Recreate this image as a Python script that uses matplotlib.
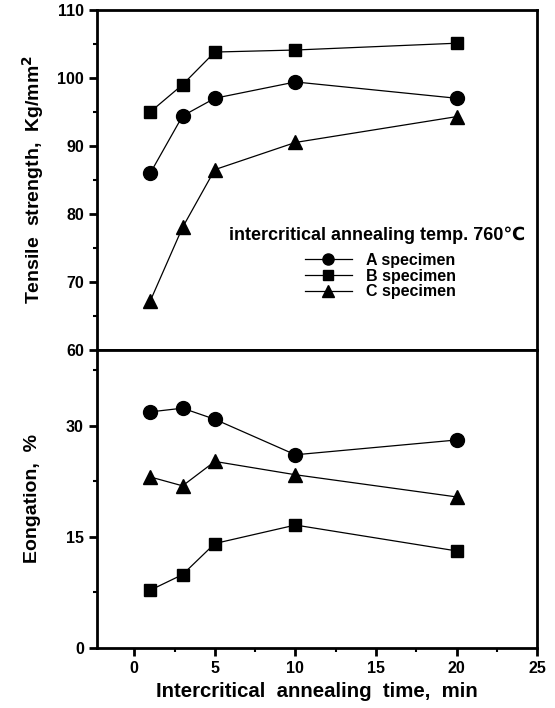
import numpy as np
import matplotlib
matplotlib.use("Agg")
import matplotlib.pyplot as plt
from matplotlib.ticker import MultipleLocator

plt.rcParams['font.family'] = ['Liberation Sans', 'DejaVu Sans']
plt.rcParams['font.weight'] = 'bold'

time_min = [1, 3, 5, 10, 20]

# tensile strength, Kg/mm2
ts_a = [86.0, 94.4, 97.0, 99.4, 97.0]
ts_b = [95.0, 99.0, 103.8, 104.1, 105.1]
ts_c = [67.2, 78.0, 86.5, 90.5, 94.3]

# elongation, %
el_a = [31.9, 32.4, 30.9, 26.1, 28.1]
el_b = [7.8, 9.9, 14.1, 16.6, 13.1]
el_c = [23.1, 21.9, 25.2, 23.4, 20.4]

labels = ["A specimen", "B specimen", "C specimen"]
markers = ["o", "s", "^"]

fig = plt.figure(figsize=(5.55, 7.08), dpi=100)
ax1 = fig.add_axes([0.175, 0.506, 0.793, 0.480])
ax2 = fig.add_axes([0.175, 0.085, 0.793, 0.421], sharex=ax1)

for ax in (ax1, ax2):
    for s in ax.spines.values():
        s.set_linewidth(2)
    ax.tick_params(which='major', direction='out', length=6, width=2, labelsize=11.5)
    ax.tick_params(which='minor', direction='out', length=3, width=1.5)

lines = []
for y, m, lab in zip([ts_a, ts_b, ts_c], markers, labels):
    l, = ax1.plot(time_min, y, color='black', lw=0.9, marker=m, ms=10 if m != 's' else 9,
                  markerfacecolor='black', markeredgecolor='black', label=lab)
    lines.append(l)

for y, m in zip([el_a, el_b, el_c], markers):
    ax2.plot(time_min, y, color='black', lw=0.9, marker=m, ms=10 if m != 's' else 9,
             markerfacecolor='black', markeredgecolor='black')

ax1.set_ylim(60, 110)
ax1.yaxis.set_major_locator(MultipleLocator(10))
ax1.yaxis.set_minor_locator(MultipleLocator(5))
ax1.tick_params(axis='x', which='both', bottom=False, labelbottom=False)

ax2.set_ylim(0, 40.3)
ax2.set_yticks([0, 15, 30])
ax2.yaxis.set_minor_locator(MultipleLocator(7.5))
ax2.set_xlim(-2.3, 25)
ax2.xaxis.set_major_locator(MultipleLocator(5))
ax2.xaxis.set_minor_locator(MultipleLocator(2.5))

for lab in ax1.get_yticklabels() + ax2.get_yticklabels() + ax2.get_xticklabels():
    lab.set_fontweight('bold')

ax1.set_ylabel("Tensile  strength,  Kg/mm$^\\mathbf{2}$", fontsize=14, fontweight='bold', labelpad=8)
ax2.set_ylabel("Eongation,  %", fontsize=14, fontweight='bold', labelpad=18)
ax2.set_xlabel("Intercritical  annealing  time,  min", fontsize=14.7, fontweight='bold', labelpad=4)
fig.align_ylabels([ax1, ax2])

ax1.text(0.973, 0.338, "intercritical annealing temp. 760\u2103", transform=ax1.transAxes,
         ha='right', va='center', fontsize=13, fontweight='bold')
leg = ax1.legend(handles=lines, loc='upper left', bbox_to_anchor=(0.473, 0.285),
                 frameon=False, fontsize=11.5, handlelength=2.9, labelspacing=0.05,
                 handletextpad=0.9, borderpad=0, borderaxespad=0, markerscale=0.8)
for t in leg.get_texts():
    t.set_fontweight('bold')

fig.savefig("out.png", dpi=100)
